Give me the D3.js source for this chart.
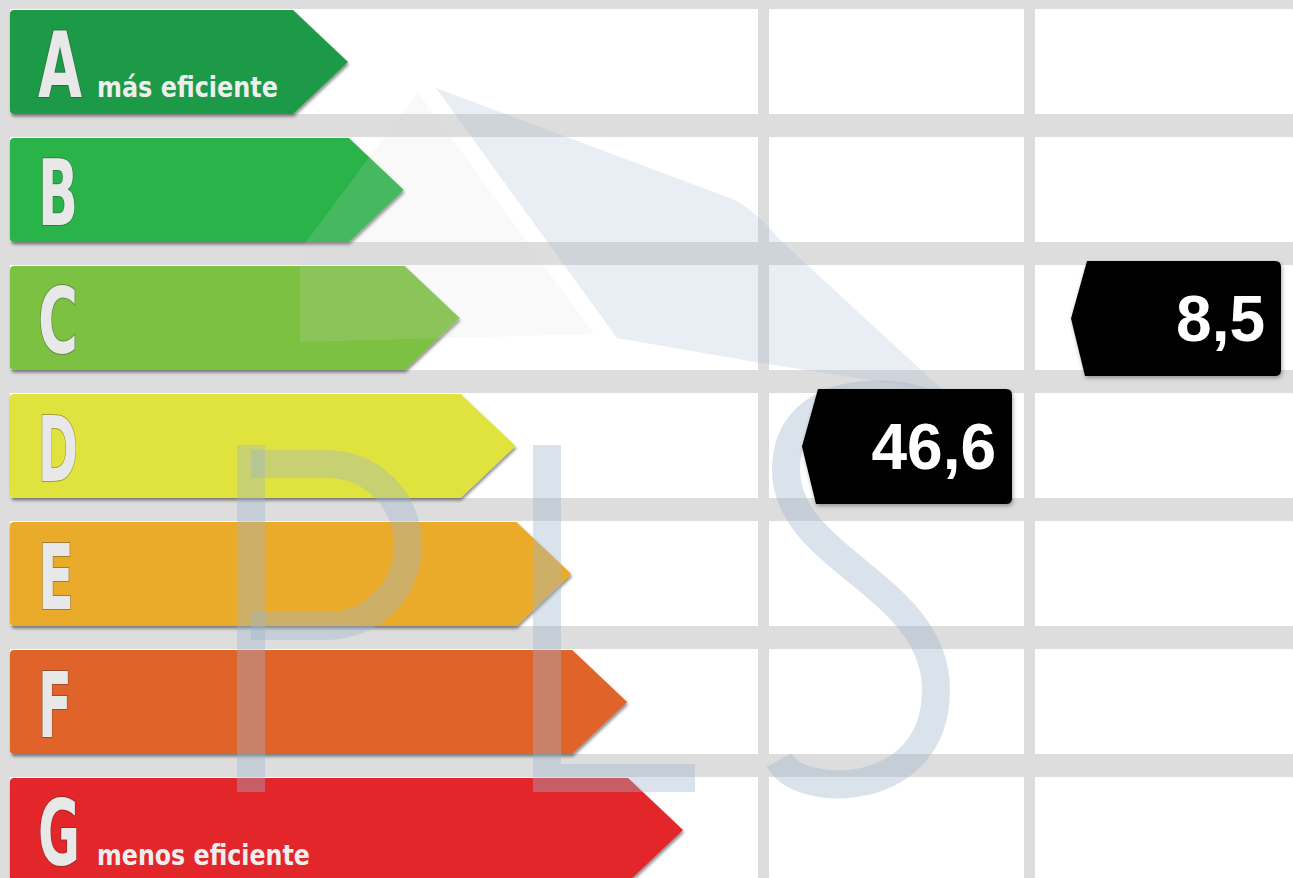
<!DOCTYPE html>
<html><head><meta charset="utf-8">
<script src="https://cdn.jsdelivr.net/npm/d3@7"></script>
<style>html,body{margin:0;padding:0;background:#dddddd;overflow:hidden}</style>
</head><body>
<svg id="chart" width="1293" height="878"></svg>
<script>
// ---- data ----
const grades = ["A", "B", "C", "D", "E", "F", "G"];
const gradeColors = ["#1f9a47", "#2cb34a", "#7cc143", "#e0e33c", "#eaab2c", "#e0632a", "#e2252a"];
const gradeNotes = ["más eficiente", "", "", "", "", "", "menos eficiente"];
const ratingColumns = ["consumo", "emisiones"];
const ratingGrades = ["D", "C"];
const ratingValues = [46.6, 8.5];

// ---- layout ----
const W = 1293, H = 878;
const svg = d3.select("#chart");
const fmt = d3.formatLocale({decimal: ",", thousands: ".", grouping: [3], currency: ["", "€"]}).format(".1f");

const y = d3.scaleBand().domain(grades).range([9, 9 + 128 * grades.length]).padding(0);
const cellH = 105;
const tipX = d3.scaleLinear().domain([0, grades.length - 1]).range([348, 683]);
const colX = d3.scaleOrdinal().domain(ratingColumns).range([769, 1035]);
const colW = d3.scaleOrdinal().domain(ratingColumns).range([255, 258]);

const defs = svg.append("defs");
const f = defs.append("filter").attr("id", "sh").attr("x", "-5%").attr("y", "-10%").attr("width", "110%").attr("height", "130%");
f.append("feDropShadow").attr("dx", 1).attr("dy", 2.5).attr("stdDeviation", 1.6).attr("flood-color", "#000").attr("flood-opacity", 0.45);
const f2 = defs.append("filter").attr("id", "sh2").attr("x", "-10%").attr("y", "-10%").attr("width", "120%").attr("height", "130%");
f2.append("feDropShadow").attr("dx", 1).attr("dy", 2).attr("stdDeviation", 2).attr("flood-color", "#000").attr("flood-opacity", 0.35);

svg.append("rect").attr("width", W).attr("height", H).attr("fill", "#dddddd");

// white cells
const rows = svg.append("g");
rows.selectAll("rect.left").data(grades).join("rect")
  .attr("x", 10).attr("width", 748).attr("y", d => y(d)).attr("height", cellH).attr("fill", "#ffffff");
ratingColumns.forEach(c => {
  rows.selectAll("rect.c" + c).data(grades).join("rect")
    .attr("x", colX(c)).attr("width", colW(c)).attr("y", d => y(d)).attr("height", cellH).attr("fill", "#ffffff");
});

// grade arrows
const bars = svg.append("g");
function arrowPath(i, g) {
  const x0 = 10, y0 = y(g) + 1, h = 104, tip = tipX(i), depth = 55;
  const r = 4;
  return `M${x0 + r},${y0} L${tip - depth},${y0} L${tip},${y0 + h / 2} L${tip - depth},${y0 + h} L${x0 + r},${y0 + h} Q${x0},${y0 + h} ${x0},${y0 + h - r} L${x0},${y0 + r} Q${x0},${y0} ${x0 + r},${y0} Z`;
}
bars.selectAll("path").data(grades).join("path")
  .attr("d", (g, i) => arrowPath(i, g))
  .attr("fill", (g, i) => gradeColors[i])
  .attr("filter", "url(#sh)");

// letters
const letterW = {A: 44, B: 40, C: 40, D: 40, E: 36, F: 34, G: 42};
bars.selectAll("text.letter").data(grades).join("text")
  .attr("class", "letter")
  .attr("x", 38).attr("y", g => y(g) + 88)
  .attr("font-family", "'DejaVu Sans Condensed', 'DejaVu Sans', sans-serif")
  .attr("font-weight", "bold").attr("font-size", 90)
  .attr("textLength", g => letterW[g]).attr("lengthAdjust", "spacingAndGlyphs")
  .attr("fill", "#e8e8e8").attr("stroke", "rgba(40,40,40,0.35)").attr("stroke-width", 2)
  .attr("paint-order", "stroke")
  .text(g => g);

// notes
const noteLen = {"más eficiente": 181, "menos eficiente": 213};
bars.selectAll("text.note").data(grades.map((g, i) => ({g, t: gradeNotes[i]})).filter(d => d.t)).join("text")
  .attr("class", "note")
  .attr("x", 97).attr("y", d => y(d.g) + 88)
  .attr("font-family", "'DejaVu Sans Condensed', 'DejaVu Sans', sans-serif")
  .attr("font-weight", "bold").attr("font-size", 29)
  .attr("textLength", d => noteLen[d.t]).attr("lengthAdjust", "spacingAndGlyphs")
  .attr("fill", "#eeeeee")
  .text(d => d.t);

// watermark
const wm = svg.append("g").attr("pointer-events", "none");
wm.append("path").attr("d", "M418,92 L594,334 L300,342 L300,250 Z").attr("fill", "#d9d9d9").attr("opacity", 0.16);
wm.append("path").attr("d", "M436,88 L735,200 Q760,215 780,240 L945,392 L755,362 L617,338 Z").attr("fill", "#a9bdd2").attr("opacity", 0.25);
const blue = wm.append("g").attr("fill", "none").attr("stroke", "#9fb5cb").attr("stroke-opacity", 0.38).attr("stroke-width", 28);
blue.append("path").attr("d", "M251,445 V792");
blue.append("path").attr("d", "M251,464 H327 A81,81 0 0 1 327,626 H251");
blue.append("path").attr("d", "M547,445 V778 H695");
blue.append("path").attr("d", "M938,410 C905,385 786,380 786,470 C786,560 936,585 936,690 C936,800 800,800 779,760");

// rating markers
const markers = svg.append("g");
const md = ratingColumns.map((c, i) => ({c, g: ratingGrades[i], v: ratingValues[i]}));
function markerPath(d) {
  const right = colX(d.c) + colW(d.c) - 12;
  const left = right - 210;
  const cy = y(d.g) + cellH / 2 + 1;
  const top = cy - 57.5, bot = cy + 57.5, r = 6;
  return `M${left + 16},${top} L${right - r},${top} Q${right},${top} ${right},${top + r} L${right},${bot - r} Q${right},${bot} ${right - r},${bot} L${left + 14},${bot} L${left},${cy} Z`;
}
markers.selectAll("path").data(md).join("path")
  .attr("d", markerPath).attr("fill", "#000000").attr("filter", "url(#sh2)");
markers.selectAll("text").data(md).join("text")
  .attr("x", d => colX(d.c) + colW(d.c) - 28)
  .attr("y", d => y(d.g) + cellH / 2 + 23)
  .attr("text-anchor", "end")
  .attr("font-family", "'Liberation Sans', Arial, sans-serif")
  .attr("font-weight", "bold").attr("font-size", 64)
  .attr("fill", "#ffffff")
  .text(d => fmt(d.v));
</script>
</body></html>
